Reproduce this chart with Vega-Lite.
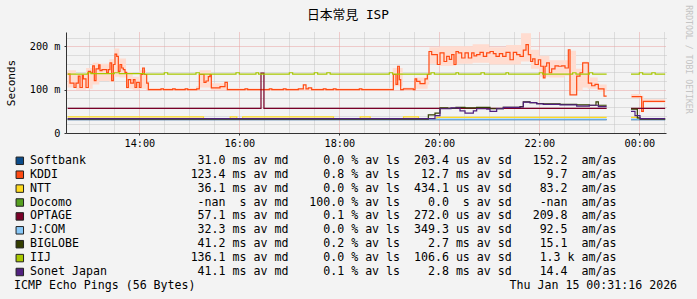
{
  "$schema": "https://vega.github.io/schema/vega-lite/v6.json",
  "width": 600,
  "height": 101,
  "autosize": {"type": "none"},
  "padding": {"left": 66, "top": 32, "right": 31, "bottom": 166},
  "background": "#f3f3f3",
  "title": {
    "text": "日本常見 ISP",
    "font": "DejaVu Sans Mono, Noto Sans CJK JP",
    "fontSize": 12.8,
    "fontWeight": "normal",
    "color": "#000000",
    "anchor": "middle",
    "frame": "group",
    "dx": -18,
    "offset": -30,
    "baseline": "bottom"
  },
  "datasets": {
    "stats": [
      {"s": "Softbank", "ord": 1, "label": "Softbank                31.0 ms av md     0.0 % av ls  203.4 us av sd   152.2  am/as"},
      {"s": "KDDI", "ord": 2, "label": "KDDI                   123.4 ms av md     0.8 % av ls   12.7 ms av sd     9.7  am/as"},
      {"s": "NTT", "ord": 3, "label": "NTT                     36.1 ms av md     0.0 % av ls  434.1 us av sd    83.2  am/as"},
      {"s": "Docomo", "ord": 4, "label": "Docomo                  -nan  s av md   100.0 % av ls    0.0  s av sd    -nan  am/as"},
      {"s": "OPTAGE", "ord": 5, "label": "OPTAGE                  57.1 ms av md     0.1 % av ls  272.0 us av sd   209.8  am/as"},
      {"s": "J:COM", "ord": 6, "label": "J:COM                   32.3 ms av md     0.0 % av ls  349.3 us av sd    92.5  am/as"},
      {"s": "BIGLOBE", "ord": 7, "label": "BIGLOBE                 41.2 ms av md     0.2 % av ls    2.7 ms av sd    15.1  am/as"},
      {"s": "IIJ", "ord": 8, "label": "IIJ                    136.1 ms av md     0.0 % av ls  106.6 us av sd    1.3 k am/as"},
      {"s": "Sonet Japan", "ord": 9, "label": "Sonet Japan             41.1 ms av md     0.1 % av ls    2.8 ms av sd    14.4  am/as"}
    ],
    "smoke": [
      {"m": 34, "lo": 105, "hi": 145}, {"m": 44, "lo": 100, "hi": 135}, {"m": 56, "lo": 102, "hi": 150},
      {"m": 64, "lo": 112, "hi": 162}, {"m": 72, "lo": 120, "hi": 160}, {"m": 84, "lo": 118, "hi": 170},
      {"m": 90, "lo": 130, "hi": 195}, {"m": 96, "lo": 128, "hi": 172}, {"m": 104, "lo": 102, "hi": 140},
      {"m": 112, "lo": 100, "hi": 130}, {"m": 120, "lo": 102, "hi": 145}, {"m": 128, "lo": 99, "hi": 118},
      {"m": 132, "lo": 98, "hi": 104}, {"m": 188, "lo": 98, "hi": 108}, {"m": 192, "lo": 105, "hi": 145},
      {"m": 206, "lo": 99, "hi": 115}, {"m": 226, "lo": 98, "hi": 103}, {"m": 420, "lo": 98, "hi": 103},
      {"m": 424, "lo": 108, "hi": 150}, {"m": 436, "lo": 98, "hi": 105}, {"m": 450, "lo": 102, "hi": 128},
      {"m": 466, "lo": 112, "hi": 140}, {"m": 468, "lo": 160, "hi": 198}, {"m": 480, "lo": 155, "hi": 200},
      {"m": 500, "lo": 160, "hi": 200}, {"m": 520, "lo": 162, "hi": 205}, {"m": 540, "lo": 158, "hi": 198},
      {"m": 560, "lo": 158, "hi": 203}, {"m": 578, "lo": 165, "hi": 230}, {"m": 590, "lo": 148, "hi": 192},
      {"m": 600, "lo": 130, "hi": 178}, {"m": 612, "lo": 128, "hi": 168}, {"m": 630, "lo": 132, "hi": 168},
      {"m": 636, "lo": 90, "hi": 190}, {"m": 644, "lo": 98, "hi": 148}, {"m": 652, "lo": 105, "hi": 165},
      {"m": 658, "lo": 102, "hi": 128}, {"m": 670, "lo": 96, "hi": 112}, {"m": 680.8, "lo": 96, "hi": 112},
      {"m": 681, "lo": null, "hi": null},
      {"m": 710, "lo": 80, "hi": 90}, {"m": 722, "lo": 48, "hi": 86}, {"m": 725, "lo": 70, "hi": 78}, {"m": 751, "lo": 70, "hi": 78}
    ],
    "lines": [
      {"s": "Softbank", "m": 34, "v": 31}, {"s": "Softbank", "m": 680.8, "v": 31}, {"s": "Softbank", "m": 681, "v": null},
      {"s": "Softbank", "m": 710, "v": 31}, {"s": "Softbank", "m": 751, "v": 31},

      {"s": "KDDI", "m": 34, "v": 136}, {"s": "KDDI", "m": 36.8, "v": 115}, {"s": "KDDI", "m": 41.6, "v": 105},
      {"s": "KDDI", "m": 44, "v": 115}, {"s": "KDDI", "m": 46.8, "v": 131}, {"s": "KDDI", "m": 48.8, "v": 105},
      {"s": "KDDI", "m": 51.6, "v": 133}, {"s": "KDDI", "m": 52.8, "v": 125}, {"s": "KDDI", "m": 56, "v": 105},
      {"s": "KDDI", "m": 58.8, "v": 142}, {"s": "KDDI", "m": 61.6, "v": 139}, {"s": "KDDI", "m": 64, "v": 155},
      {"s": "KDDI", "m": 66, "v": 121}, {"s": "KDDI", "m": 68, "v": 148}, {"s": "KDDI", "m": 71.2, "v": 157},
      {"s": "KDDI", "m": 72.8, "v": 144}, {"s": "KDDI", "m": 75.2, "v": 146}, {"s": "KDDI", "m": 80.8, "v": 139},
      {"s": "KDDI", "m": 82.8, "v": 146}, {"s": "KDDI", "m": 84.8, "v": 162}, {"s": "KDDI", "m": 86.8, "v": 121},
      {"s": "KDDI", "m": 88.8, "v": 158}, {"s": "KDDI", "m": 90.8, "v": 182}, {"s": "KDDI", "m": 92.8, "v": 177},
      {"s": "KDDI", "m": 94.8, "v": 142}, {"s": "KDDI", "m": 96.8, "v": 158}, {"s": "KDDI", "m": 98.8, "v": 150},
      {"s": "KDDI", "m": 100.8, "v": 146}, {"s": "KDDI", "m": 102.8, "v": 140}, {"s": "KDDI", "m": 104.8, "v": 105},
      {"s": "KDDI", "m": 106.8, "v": 123}, {"s": "KDDI", "m": 109.6, "v": 115}, {"s": "KDDI", "m": 112.8, "v": 123},
      {"s": "KDDI", "m": 114.8, "v": 105}, {"s": "KDDI", "m": 116.8, "v": 117}, {"s": "KDDI", "m": 120, "v": 105},
      {"s": "KDDI", "m": 122, "v": 135}, {"s": "KDDI", "m": 124, "v": 150}, {"s": "KDDI", "m": 126, "v": 135},
      {"s": "KDDI", "m": 128.8, "v": 115}, {"s": "KDDI", "m": 130.8, "v": 100}, {"s": "KDDI", "m": 146, "v": 102},
      {"s": "KDDI", "m": 149, "v": 100}, {"s": "KDDI", "m": 160, "v": 102}, {"s": "KDDI", "m": 163, "v": 100},
      {"s": "KDDI", "m": 175, "v": 102}, {"s": "KDDI", "m": 178, "v": 100}, {"s": "KDDI", "m": 188.8, "v": 102},
      {"s": "KDDI", "m": 192, "v": 135}, {"s": "KDDI", "m": 197.6, "v": 117}, {"s": "KDDI", "m": 200, "v": 120},
      {"s": "KDDI", "m": 202.8, "v": 130}, {"s": "KDDI", "m": 204.8, "v": 135}, {"s": "KDDI", "m": 206.4, "v": 104},
      {"s": "KDDI", "m": 216.8, "v": 107}, {"s": "KDDI", "m": 222.8, "v": 117}, {"s": "KDDI", "m": 225.6, "v": 100},
      {"s": "KDDI", "m": 246.8, "v": 102}, {"s": "KDDI", "m": 250, "v": 100}, {"s": "KDDI", "m": 276, "v": 102},
      {"s": "KDDI", "m": 279, "v": 100}, {"s": "KDDI", "m": 292.8, "v": 102}, {"s": "KDDI", "m": 296, "v": 100},
      {"s": "KDDI", "m": 310.8, "v": 102}, {"s": "KDDI", "m": 316.8, "v": 111}, {"s": "KDDI", "m": 320, "v": 102},
      {"s": "KDDI", "m": 322.8, "v": 104}, {"s": "KDDI", "m": 326.8, "v": 100}, {"s": "KDDI", "m": 340.8, "v": 102},
      {"s": "KDDI", "m": 344, "v": 100}, {"s": "KDDI", "m": 352.8, "v": 102}, {"s": "KDDI", "m": 356, "v": 100},
      {"s": "KDDI", "m": 384, "v": 102}, {"s": "KDDI", "m": 387, "v": 100}, {"s": "KDDI", "m": 424.8, "v": 135},
      {"s": "KDDI", "m": 428, "v": 112}, {"s": "KDDI", "m": 430, "v": 154}, {"s": "KDDI", "m": 432, "v": 123},
      {"s": "KDDI", "m": 433.6, "v": 100}, {"s": "KDDI", "m": 436.8, "v": 102}, {"s": "KDDI", "m": 448.8, "v": 100},
      {"s": "KDDI", "m": 450.8, "v": 125}, {"s": "KDDI", "m": 452.8, "v": 119}, {"s": "KDDI", "m": 456.8, "v": 114},
      {"s": "KDDI", "m": 462.8, "v": 125}, {"s": "KDDI", "m": 465.6, "v": 135}, {"s": "KDDI", "m": 467.6, "v": 188},
      {"s": "KDDI", "m": 470.8, "v": 181}, {"s": "KDDI", "m": 477.6, "v": 158}, {"s": "KDDI", "m": 480.8, "v": 185},
      {"s": "KDDI", "m": 485.6, "v": 165}, {"s": "KDDI", "m": 488.8, "v": 177}, {"s": "KDDI", "m": 492, "v": 170},
      {"s": "KDDI", "m": 494.8, "v": 181}, {"s": "KDDI", "m": 497.6, "v": 158}, {"s": "KDDI", "m": 500, "v": 188},
      {"s": "KDDI", "m": 502.8, "v": 185}, {"s": "KDDI", "m": 506.8, "v": 173}, {"s": "KDDI", "m": 510.8, "v": 185},
      {"s": "KDDI", "m": 514.8, "v": 173}, {"s": "KDDI", "m": 518.8, "v": 185}, {"s": "KDDI", "m": 521.6, "v": 178},
      {"s": "KDDI", "m": 524.8, "v": 181}, {"s": "KDDI", "m": 528.8, "v": 186}, {"s": "KDDI", "m": 532.8, "v": 177},
      {"s": "KDDI", "m": 536.8, "v": 185}, {"s": "KDDI", "m": 540.8, "v": 188}, {"s": "KDDI", "m": 544.8, "v": 183},
      {"s": "KDDI", "m": 548, "v": 177}, {"s": "KDDI", "m": 552, "v": 183}, {"s": "KDDI", "m": 556, "v": 177},
      {"s": "KDDI", "m": 560, "v": 186}, {"s": "KDDI", "m": 564.8, "v": 169}, {"s": "KDDI", "m": 568.8, "v": 186},
      {"s": "KDDI", "m": 572.8, "v": 181}, {"s": "KDDI", "m": 576.8, "v": 177}, {"s": "KDDI", "m": 580.8, "v": 191},
      {"s": "KDDI", "m": 584, "v": 204}, {"s": "KDDI", "m": 586.8, "v": 181}, {"s": "KDDI", "m": 589.6, "v": 165},
      {"s": "KDDI", "m": 592, "v": 171}, {"s": "KDDI", "m": 594.8, "v": 158}, {"s": "KDDI", "m": 598.8, "v": 169},
      {"s": "KDDI", "m": 601.6, "v": 154}, {"s": "KDDI", "m": 604.8, "v": 127}, {"s": "KDDI", "m": 606.8, "v": 154},
      {"s": "KDDI", "m": 608.8, "v": 162}, {"s": "KDDI", "m": 612, "v": 139}, {"s": "KDDI", "m": 614.8, "v": 148},
      {"s": "KDDI", "m": 618.8, "v": 155}, {"s": "KDDI", "m": 622.8, "v": 154}, {"s": "KDDI", "m": 626.8, "v": 155},
      {"s": "KDDI", "m": 630.8, "v": 150}, {"s": "KDDI", "m": 634.8, "v": 192}, {"s": "KDDI", "m": 636.8, "v": 88},
      {"s": "KDDI", "m": 644.8, "v": 131}, {"s": "KDDI", "m": 648.8, "v": 139}, {"s": "KDDI", "m": 652, "v": 162},
      {"s": "KDDI", "m": 658.8, "v": 115}, {"s": "KDDI", "m": 662.8, "v": 109}, {"s": "KDDI", "m": 666.8, "v": 112},
      {"s": "KDDI", "m": 670.8, "v": 102}, {"s": "KDDI", "m": 677.6, "v": 85}, {"s": "KDDI", "m": 680.8, "v": 85},
      {"s": "KDDI", "m": 681, "v": null}, {"s": "KDDI", "m": 710.8, "v": 84}, {"s": "KDDI", "m": 722.8, "v": 50},
      {"s": "KDDI", "m": 724.8, "v": 73}, {"s": "KDDI", "m": 751, "v": 73},

      {"s": "NTT", "m": 34, "v": 37}, {"s": "NTT", "m": 197, "v": 33}, {"s": "NTT", "m": 229, "v": 37},
      {"s": "NTT", "m": 237, "v": 33}, {"s": "NTT", "m": 244, "v": 37}, {"s": "NTT", "m": 353, "v": 33},
      {"s": "NTT", "m": 385, "v": 37}, {"s": "NTT", "m": 397, "v": 33}, {"s": "NTT", "m": 437, "v": 37},
      {"s": "NTT", "m": 455, "v": 33}, {"s": "NTT", "m": 477, "v": 36}, {"s": "NTT", "m": 680.8, "v": 36},
      {"s": "NTT", "m": 681, "v": null}, {"s": "NTT", "m": 710, "v": 36}, {"s": "NTT", "m": 718, "v": 33},
      {"s": "NTT", "m": 751, "v": 33},

      {"s": "OPTAGE", "m": 34, "v": 57}, {"s": "OPTAGE", "m": 266, "v": 138}, {"s": "OPTAGE", "m": 269.5, "v": 57},
      {"s": "OPTAGE", "m": 680.8, "v": 57}, {"s": "OPTAGE", "m": 681, "v": null}, {"s": "OPTAGE", "m": 710, "v": 57},
      {"s": "OPTAGE", "m": 751, "v": 57},

      {"s": "J:COM", "m": 34, "v": 32}, {"s": "J:COM", "m": 680.8, "v": 32}, {"s": "J:COM", "m": 681, "v": null},
      {"s": "J:COM", "m": 710, "v": 32}, {"s": "J:COM", "m": 751, "v": 32},

      {"s": "BIGLOBE", "m": 34, "v": 32}, {"s": "BIGLOBE", "m": 466.8, "v": 42}, {"s": "BIGLOBE", "m": 474.8, "v": 46},
      {"s": "BIGLOBE", "m": 480.8, "v": 58}, {"s": "BIGLOBE", "m": 490, "v": 57}, {"s": "BIGLOBE", "m": 500, "v": 59},
      {"s": "BIGLOBE", "m": 510.8, "v": 58}, {"s": "BIGLOBE", "m": 524.8, "v": 59}, {"s": "BIGLOBE", "m": 540.8, "v": 56},
      {"s": "BIGLOBE", "m": 556.8, "v": 59}, {"s": "BIGLOBE", "m": 576.8, "v": 61}, {"s": "BIGLOBE", "m": 580.8, "v": 72},
      {"s": "BIGLOBE", "m": 588.8, "v": 70}, {"s": "BIGLOBE", "m": 596.8, "v": 68}, {"s": "BIGLOBE", "m": 604.8, "v": 67},
      {"s": "BIGLOBE", "m": 624.8, "v": 66}, {"s": "BIGLOBE", "m": 644.8, "v": 65}, {"s": "BIGLOBE", "m": 660, "v": 64},
      {"s": "BIGLOBE", "m": 668, "v": 72}, {"s": "BIGLOBE", "m": 670.8, "v": 64}, {"s": "BIGLOBE", "m": 680.8, "v": 64},
      {"s": "BIGLOBE", "m": 681, "v": null}, {"s": "BIGLOBE", "m": 710, "v": 55}, {"s": "BIGLOBE", "m": 717.6, "v": 35},
      {"s": "BIGLOBE", "m": 720.8, "v": 32}, {"s": "BIGLOBE", "m": 751, "v": 32},

      {"s": "IIJ", "m": 34, "v": 136}, {"s": "IIJ", "m": 58, "v": 139}, {"s": "IIJ", "m": 62, "v": 137},
      {"s": "IIJ", "m": 90, "v": 139}, {"s": "IIJ", "m": 96, "v": 137}, {"s": "IIJ", "m": 126, "v": 136},
      {"s": "IIJ", "m": 150, "v": 139}, {"s": "IIJ", "m": 154, "v": 136}, {"s": "IIJ", "m": 188, "v": 139},
      {"s": "IIJ", "m": 192, "v": 136}, {"s": "IIJ", "m": 236, "v": 139}, {"s": "IIJ", "m": 240, "v": 136},
      {"s": "IIJ", "m": 260, "v": 139}, {"s": "IIJ", "m": 263, "v": 136}, {"s": "IIJ", "m": 300, "v": 139},
      {"s": "IIJ", "m": 304, "v": 136}, {"s": "IIJ", "m": 330, "v": 139}, {"s": "IIJ", "m": 334, "v": 136},
      {"s": "IIJ", "m": 345, "v": 139}, {"s": "IIJ", "m": 349, "v": 136}, {"s": "IIJ", "m": 420, "v": 139},
      {"s": "IIJ", "m": 424, "v": 136}, {"s": "IIJ", "m": 470, "v": 139}, {"s": "IIJ", "m": 474, "v": 136},
      {"s": "IIJ", "m": 500, "v": 139}, {"s": "IIJ", "m": 503, "v": 136}, {"s": "IIJ", "m": 530, "v": 139},
      {"s": "IIJ", "m": 534, "v": 136}, {"s": "IIJ", "m": 560, "v": 139}, {"s": "IIJ", "m": 563, "v": 136},
      {"s": "IIJ", "m": 600, "v": 139}, {"s": "IIJ", "m": 604, "v": 136}, {"s": "IIJ", "m": 640, "v": 139},
      {"s": "IIJ", "m": 644, "v": 136}, {"s": "IIJ", "m": 660, "v": 139}, {"s": "IIJ", "m": 664, "v": 136},
      {"s": "IIJ", "m": 680.8, "v": 136}, {"s": "IIJ", "m": 681, "v": null}, {"s": "IIJ", "m": 710, "v": 136},
      {"s": "IIJ", "m": 720, "v": 139}, {"s": "IIJ", "m": 724, "v": 136}, {"s": "IIJ", "m": 735, "v": 139},
      {"s": "IIJ", "m": 739, "v": 136}, {"s": "IIJ", "m": 751, "v": 136},

      {"s": "Sonet Japan", "m": 34, "v": 33}, {"s": "Sonet Japan", "m": 474.8, "v": 40}, {"s": "Sonet Japan", "m": 480.8, "v": 56},
      {"s": "Sonet Japan", "m": 494, "v": 58}, {"s": "Sonet Japan", "m": 504.8, "v": 51}, {"s": "Sonet Japan", "m": 510.8, "v": 46},
      {"s": "Sonet Japan", "m": 520.8, "v": 51}, {"s": "Sonet Japan", "m": 524.8, "v": 56}, {"s": "Sonet Japan", "m": 536.8, "v": 55},
      {"s": "Sonet Japan", "m": 540.8, "v": 50}, {"s": "Sonet Japan", "m": 548.8, "v": 56}, {"s": "Sonet Japan", "m": 556.8, "v": 59},
      {"s": "Sonet Japan", "m": 576.8, "v": 60}, {"s": "Sonet Japan", "m": 580.8, "v": 71}, {"s": "Sonet Japan", "m": 588.8, "v": 70},
      {"s": "Sonet Japan", "m": 596.8, "v": 67}, {"s": "Sonet Japan", "m": 604.8, "v": 66}, {"s": "Sonet Japan", "m": 624.8, "v": 65},
      {"s": "Sonet Japan", "m": 644.8, "v": 62}, {"s": "Sonet Japan", "m": 660, "v": 64}, {"s": "Sonet Japan", "m": 670.8, "v": 61},
      {"s": "Sonet Japan", "m": 680.8, "v": 61}, {"s": "Sonet Japan", "m": 681, "v": null}, {"s": "Sonet Japan", "m": 710, "v": 50},
      {"s": "Sonet Japan", "m": 714.8, "v": 40}, {"s": "Sonet Japan", "m": 720.8, "v": 33}, {"s": "Sonet Japan", "m": 751, "v": 33}
    ]
  },
  "layer": [
    {
      "data": {"name": "smoke"},
      "mark": {"type": "area", "interpolate": "step-after", "color": "#ffdcd0", "invalid": "break-paths-filter-domains"},
      "encoding": {
        "x": {
          "field": "m", "type": "quantitative",
          "scale": {"domain": [32, 752], "nice": false, "zero": false},
          "axis": {
            "orient": "bottom", "values": [120, 240, 360, 480, 600, 720],
            "labelExpr": "format((12 + datum.value / 60) % 24, '02d') + ':00'",
            "labelFont": "DejaVu Sans Mono", "labelFontSize": 10.2, "labelColor": "#000000",
            "labelPadding": 3.5, "labelFlush": false, "labelOverlap": false,
            "tickSize": 2, "tickColor": "#333333", "domainColor": "#333333",
            "grid": true, "gridColor": "#e8a0a0", "gridDash": [1, 1], "gridOpacity": 1,
            "title": null
          }
        },
        "y": {
          "field": "lo", "type": "quantitative",
          "scale": {"domain": [0, 233], "nice": false, "zero": false},
          "axis": {
            "orient": "left", "values": [0, 100, 200],
            "labelExpr": "datum.value == 0 ? '0' : datum.value + ' m'",
            "labelFont": "DejaVu Sans Mono", "labelFontSize": 10.2, "labelColor": "#000000",
            "labelPadding": 4, "labelOverlap": false, "labelFlush": false,
            "tickSize": 2, "tickColor": "#333333", "domainColor": "#333333",
            "grid": true, "gridColor": "#e8a0a0", "gridDash": [1, 1], "gridOpacity": 1,
            "title": "Seconds", "titleFont": "DejaVu Sans Mono", "titleFontSize": 11,
            "titleFontWeight": "normal", "titleColor": "#000000",
            "titleX": -55, "titleY": 50.5, "titleAngle": 270, "titleAlign": "center", "titleBaseline": "middle"
          }
        },
        "y2": {"field": "hi"}
      }
    },
    {
      "data": {"name": "lines"},
      "mark": {"type": "line", "interpolate": "step-after", "strokeWidth": 1.2, "invalid": "break-paths-filter-domains"},
      "encoding": {
        "x": {
          "field": "m", "type": "quantitative",
          "scale": {"domain": [32, 752], "nice": false, "zero": false},
          "axis": {
            "orient": "top",
            "values": [60, 90, 150, 180, 210, 270, 300, 330, 390, 420, 450, 510, 540, 570, 630, 660, 690, 750],
            "labels": false, "ticks": false, "domain": false,
            "grid": true, "gridColor": "#c4c4c4", "gridDash": [1, 1], "gridOpacity": 1,
            "title": null
          }
        },
        "y": {
          "field": "v", "type": "quantitative",
          "scale": {"domain": [0, 233], "nice": false, "zero": false},
          "axis": {
            "orient": "right", "values": [20, 40, 60, 80, 120, 140, 160, 180, 220],
            "labels": false, "ticks": false, "domain": false,
            "grid": true, "gridColor": "#c4c4c4", "gridDash": [1, 1], "gridOpacity": 1,
            "title": "RRDTOOL / TOBI OETIKER", "titleAngle": 90, "titleColor": "#c4c4c4",
            "titleFont": "DejaVu Sans Mono", "titleFontSize": 8.2, "titleFontWeight": "normal",
            "titleX": 21, "titleY": 27, "titleAlign": "center", "titleBaseline": "middle"
          }
        },
        "stroke": {
          "field": "s", "type": "nominal",
          "scale": {
            "domain": ["Softbank", "KDDI", "NTT", "Docomo", "OPTAGE", "J:COM", "BIGLOBE", "IIJ", "Sonet Japan"],
            "range": ["#0a4b8a", "#ff4a12", "#ffdb1f", "#56a020", "#7a0028", "#88c8f8", "#333d00", "#a8c800", "#50207f"]
          },
          "legend": null
        }
      }
    },
    {
      "data": {"name": "stats"},
      "mark": {"type": "square", "opacity": 0},
      "encoding": {
        "fill": {
          "field": "label", "type": "nominal",
          "sort": {"field": "ord", "op": "min"},
          "scale": {"range": ["#0a4b8a", "#ff4a12", "#ffdb1f", "#56a020", "#7a0028", "#88c8f8", "#333d00", "#a8c800", "#50207f"]},
          "legend": {
            "orient": "none", "legendX": -52, "legendY": 123, "direction": "vertical",
            "padding": 0, "offset": 0,
            "symbolType": "square", "symbolSize": 56, "symbolStrokeColor": "#222222", "symbolStrokeWidth": 1, "symbolOpacity": 1,
            "labelFont": "DejaVu Sans Mono", "labelFontSize": 11.6, "labelColor": "#000000",
            "labelOffset": 4.5, "labelLimit": 1000,
            "labelExpr": "replace(datum.label, regexp(' ', 'g'), '\u00a0')",
            "rowPadding": 0.9,
            "title": "ICMP Echo Pings (56 Bytes)\u00a0\u00a0\u00a0\u00a0\u00a0\u00a0\u00a0\u00a0\u00a0\u00a0\u00a0\u00a0\u00a0\u00a0\u00a0\u00a0\u00a0\u00a0\u00a0\u00a0\u00a0\u00a0\u00a0\u00a0\u00a0\u00a0\u00a0\u00a0\u00a0\u00a0\u00a0\u00a0\u00a0\u00a0\u00a0\u00a0\u00a0\u00a0\u00a0\u00a0\u00a0\u00a0\u00a0\u00a0\u00a0Thu Jan 15 00:31:16 2026",
            "titleOrient": "bottom", "titleAnchor": "start",
            "titleFont": "DejaVu Sans Mono", "titleFontSize": 11.6, "titleFontWeight": "normal", "titleColor": "#000000",
            "titlePadding": 2, "titleLimit": 1000
          }
        }
      }
    }
  ],
  "resolve": {"axis": {"x": "independent", "y": "independent"}},
  "config": {
    "font": "DejaVu Sans Mono",
    "view": {"fill": "#ffffff", "stroke": null}
  }
}
